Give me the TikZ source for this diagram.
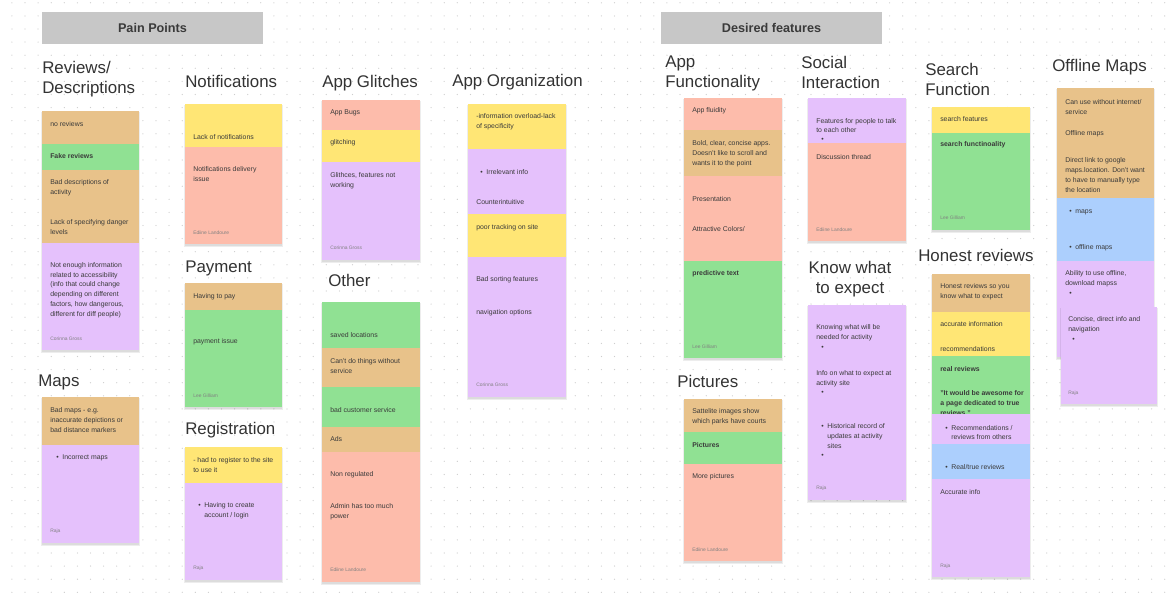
\documentclass[tikz,border=0pt]{standalone}
\usepackage{fontspec}
\setmainfont{Liberation Sans}

\definecolor{noteOrange}{HTML}{E8C28A}
\definecolor{noteGreen}{HTML}{90E193}
\definecolor{notePurple}{HTML}{E5C1FC}
\definecolor{noteSalmon}{HTML}{FDBCAB}
\definecolor{noteYellow}{HTML}{FFE675}
\definecolor{noteBlue}{HTML}{ACCFFD}
\definecolor{barGray}{HTML}{C7C7C7}
\definecolor{dotGray}{HTML}{CDCDCD}
\definecolor{inkGray}{HTML}{3A3A3A}
\definecolor{titleGray}{HTML}{333333}

\newcommand{\notebullet}{\textbullet\hspace{2.6pt}}
\newcommand{\notegap}{\hphantom{\textbullet\hspace{2.6pt}}}

\tikzset{
  section bar/.style={
    fill=barGray, inner sep=0pt,
    minimum width=5.525cm, minimum height=0.8cm,
    text=inkGray, font=\fontsize{9}{11}\selectfont\bfseries
  },
  stack shadow/.style={
    fill=black, fill opacity=0.07
  },
  group title/.style={
    anchor=west, align=left, inner sep=0pt,
    text=titleGray, font=\fontsize{12}{14.2}\selectfont
  },
  note text/.style={
    anchor=west, align=left, inner sep=0pt,
    text=inkGray, font=\fontsize{4.9}{7}\selectfont
  },
  note bold/.style={
    note text, font=\fontsize{4.9}{7}\selectfont\bfseries
  },
  author/.style={
    anchor=west, inner sep=0pt,
    text=black!50, font=\fontsize{3.5}{4}\selectfont
  },
}

% soft shadow under a stack of notes: #1 top left, #2 bottom right
\newcommand{\noteshadow}[4]{%
  \fill[stack shadow] (#1-1,#2+1) rectangle (#3+1,#4+3);
  \fill[stack shadow] (#1,#2+1) rectangle (#3,#4+1.5);
}

\begin{document}
\begin{tikzpicture}[x=0.025cm, y=-0.025cm]
  \useasboundingbox (0,0) rectangle (1174,601);
  \fill[white] (0,0) rectangle (1174,601);

  % dot grid
  \foreach \i in {0,...,89}
    \foreach \j in {0,...,45}
      \fill[dotGray] ({11.9+13.1*\i},{2.8+13.1*\j}) circle (0.45pt);

  % Section bars
  \node[section bar] (painbar) at (152.5,28) {Pain Points};
  \node[section bar] (wantbar) at (771.5,28) {Desired features};

  % Reviews / Descriptions
  \node[group title] (revtitle) at (42,79) {Reviews/\\Descriptions};
  \noteshadow{42}{111}{139}{350}
  \fill[noteOrange] (42,111) rectangle (139,144);
  \node[note text] (rev1) at (50,124) {no reviews};
  \fill[noteGreen] (42,144) rectangle (139,170);
  \node[note bold] (rev2) at (50,156) {Fake reviews};
  \fill[noteOrange] (42,170) rectangle (139,243);
  \node[note text] (rev3) at (50,187.5) {Bad descriptions of\\activity};
  \node[note text] (rev4) at (50,227) {Lack of specifying danger\\levels};
  \fill[notePurple] (42,243) rectangle (139,350);
  \node[note text] (rev5) at (50,290) {Not enough information\\related to accessibility\\(info that could change\\depending on different\\factors, how dangerous,\\different for diff people)};
  \node[author] (rev6) at (50,339) {Corinna Gross};

  % Maps
  \node[group title] (maptitle) at (38,382) {Maps};
  \noteshadow{42}{397}{139}{543}
  \fill[noteOrange] (42,397) rectangle (139,445);
  \node[note text] (map1) at (50,420) {Bad maps - e.g.\\inaccurate depictions or\\bad distance markers};
  \fill[notePurple] (42,445) rectangle (139,543);
  \node[note text] (map2) at (56,458) {\notebullet Incorrect maps};
  \node[author] (map3) at (50,531) {Raja};

  % Notifications
  \node[group title] (nottitle) at (185,81) {Notifications};
  \noteshadow{185}{104}{282}{244}
  \fill[noteYellow] (185,104) rectangle (282,147);
  \node[note text] (not1) at (193,137) {Lack of notifications};
  \fill[noteSalmon] (185,147) rectangle (282,244);
  \node[note text] (not2) at (193,174) {Notifications delivery\\issue};
  \node[author] (not3) at (193,233) {Ediine Landoure};

  % Payment
  \node[group title] (paytitle) at (185,268) {Payment};
  \noteshadow{185}{283}{282}{407}
  \fill[noteOrange] (185,283) rectangle (282,310);
  \node[note text] (pay1) at (193,297) {Having to pay};
  \fill[noteGreen] (185,310) rectangle (282,407);
  \node[note text] (pay2) at (193,342) {payment issue};
  \node[author] (pay3) at (193,396) {Lee Gilliam};

  % Registration
  \node[group title] (regtitle) at (185,430) {Registration};
  \noteshadow{185}{447}{282}{580}
  \fill[noteYellow] (185,447) rectangle (282,483);
  \node[note text] (reg1) at (193,465) {- had to register to the site\\to use it};
  \fill[notePurple] (185,483) rectangle (282,580);
  \node[note text] (reg2) at (198,510.5) {\notebullet Having to create\\\notegap account / login};
  \node[author] (reg3) at (193,568) {Raja};

  % App Glitches
  \node[group title] (glititle) at (322,83) {App Glitches};
  \noteshadow{322}{100}{420}{260}
  \fill[noteSalmon] (322,100) rectangle (420,130);
  \node[note text] (gli1) at (330,113) {App Bugs};
  \fill[noteYellow] (322,130) rectangle (420,162);
  \node[note text] (gli2) at (330,143) {glitching};
  \fill[notePurple] (322,162) rectangle (420,260);
  \node[note text] (gli3) at (330,181) {Glithces, features not\\working};
  \node[author] (gli4) at (330,248) {Corinna Gross};

  % Other
  \node[group title] (othtitle) at (328,280) {Other};
  \noteshadow{322}{302}{420}{582}
  \fill[noteGreen] (322,302) rectangle (420,348);
  \node[note text] (oth1) at (330,335) {saved locations};
  \fill[noteOrange] (322,348) rectangle (420,387);
  \node[note text] (oth2) at (330,366) {Can't do things without\\service};
  \fill[noteGreen] (322,387) rectangle (420,427);
  \node[note text] (oth3) at (330,410) {bad customer service};
  \fill[noteOrange] (322,427) rectangle (420,452);
  \node[note text] (oth4) at (330,439) {Ads};
  \fill[noteSalmon] (322,452) rectangle (420,582);
  \node[note text] (oth5) at (330,475) {Non regulated};
  \node[note text] (oth6) at (330,512) {Admin has too much\\power};
  \node[author] (oth7) at (330,570) {Ediine Landoure};

  % App Organization
  \node[group title] (orgtitle) at (452,82) {App Organization};
  \noteshadow{468}{104}{566}{397}
  \fill[noteYellow] (468,104) rectangle (566,149);
  \node[note text] (org1) at (476,122) {-information overload-lack\\of specificity};
  \fill[notePurple] (468,149) rectangle (566,214);
  \node[note text] (org2) at (480,172) {\notebullet Irrelevant info};
  \node[note text] (org3) at (476,202) {Counterintuitive};
  \fill[noteYellow] (468,214) rectangle (566,257);
  \node[note text] (org4) at (476,228) {poor tracking on site};
  \fill[notePurple] (468,257) rectangle (566,397);
  \node[note text] (org5) at (476,280) {Bad sorting features};
  \node[note text] (org6) at (476,313) {navigation options};
  \node[author] (org7) at (476,385) {Corinna Gross};

  % App Functionality
  \node[group title] (funtitle) at (665,73) {App\\Functionality};
  \noteshadow{684}{98}{782}{358}
  \fill[noteSalmon] (684,98) rectangle (782,130);
  \node[note text] (fun1) at (692,111) {App fluidity};
  \fill[noteOrange] (684,130) rectangle (782,176);
  \node[note text] (fun2) at (692,154) {Bold, clear, concise apps.\\Doesn't like to scroll and\\wants it to the point};
  \fill[noteSalmon] (684,176) rectangle (782,261);
  \node[note text] (fun3) at (692,199) {Presentation};
  \node[note text] (fun4) at (692,229) {Attractive Colors/};
  \fill[noteGreen] (684,261) rectangle (782,358);
  \node[note bold] (fun5) at (692,274) {predictive text};
  \node[author] (fun6) at (692,347) {Lee Gilliam};

  % Pictures
  \node[group title] (pictitle) at (677,381) {Pictures};
  \noteshadow{684}{399}{782}{561}
  \fill[noteOrange] (684,399) rectangle (782,432);
  \node[note text] (pic1) at (692,417) {Sattelite images show\\which parks have courts};
  \fill[noteGreen] (684,432) rectangle (782,464);
  \node[note bold] (pic2) at (692,445) {Pictures};
  \fill[noteSalmon] (684,464) rectangle (782,561);
  \node[note text] (pic3) at (692,477) {More pictures};
  \node[author] (pic4) at (692,550) {Ediine Landoure};

  % Social Interaction
  \node[group title] (soctitle) at (801,72.5) {Social\\Interaction};
  \noteshadow{808}{98}{906}{241}
  \fill[notePurple] (808,98) rectangle (906,143);
  \node[note text] (soc1) at (816,125.5) {Features for people to talk\\to each other};
  \node[note text] (soc2) at (821,140) {\textbullet};
  \fill[noteSalmon] (808,143) rectangle (906,241);
  \node[note text] (soc3) at (816,157) {Discussion thread};
  \node[author] (soc4) at (816,230) {Ediine Landoure};

  % Know what to expect
  \node[group title, anchor=center, align=center] (exptitle) at (850,279.5) {Know what\\to expect};
  \noteshadow{808}{305}{906}{500}
  \fill[notePurple] (808,305) rectangle (906,500);
  \node[note text] (exp1) at (816,333) {Knowing what will be\\needed for activity};
  \node[note text] (exp2) at (821,348) {\textbullet};
  \node[note text] (exp3) at (816,378.5) {Info on what to expect at\\activity site};
  \node[note text] (exp4) at (821,393) {\textbullet};
  \node[note text] (exp5) at (821,436) {\notebullet Historical record of\\\notegap updates at activity\\\notegap sites};
  \node[note text] (exp6) at (821,456) {\textbullet};
  \node[author] (exp7) at (816,488) {Raja};

  % Search Function
  \node[group title] (seatitle) at (925,79.5) {Search\\Function};
  \noteshadow{932}{107}{1030}{230}
  \fill[noteYellow] (932,107) rectangle (1030,133);
  \node[note text] (sea1) at (940,119) {search features};
  \fill[noteGreen] (932,133) rectangle (1030,230);
  \node[note bold] (sea2) at (940,145) {search functinoality};
  \node[author] (sea3) at (940,218) {Lee Gilliam};

  % Honest reviews
  \node[group title] (hontitle) at (918,255) {Honest reviews};
  \noteshadow{932}{274}{1030}{577}
  \fill[noteOrange] (932,274) rectangle (1030,312);
  \node[note text] (hon1) at (940,292) {Honest reviews so you\\know what to expect};
  \fill[noteYellow] (932,312) rectangle (1030,356);
  \node[note text] (hon2) at (940,324) {accurate information};
  \node[note text] (hon3) at (940,349) {recommendations};
  \fill[noteGreen] (932,356) rectangle (1030,414);
  \node[note bold] (hon4) at (940,369) {real reviews};
  \node[note bold] (hon5) at (940,403) {"It would be awesome for\\a page dedicated to true\\reviews."};
  \fill[notePurple] (932,414) rectangle (1030,444);
  \node[note text] (hon6) at (945,432.5) {\notebullet Recommendations /\\\notegap reviews from others};
  \fill[noteBlue] (932,444) rectangle (1030,479);
  \node[note text] (hon7) at (945,467) {\notebullet Real/true reviews};
  \fill[notePurple] (932,479) rectangle (1030,577);
  \node[note text] (hon8) at (940,492) {Accurate info};
  \node[author] (hon9) at (940,566) {Raja};

  % Offline Maps
  \node[group title] (offtitle) at (1052,67) {Offline Maps};
  \noteshadow{1057}{88}{1154}{357}
  \fill[noteOrange] (1057,88) rectangle (1154,198);
  \node[note text] (off1) at (1065,107) {Can use without internet/\\service};
  \node[note text] (off2) at (1065,134) {Offline maps};
  \node[note text] (off3) at (1065,175) {Direct link to google\\maps.location. Don't want\\to have to manually type\\the location};
  \fill[noteBlue] (1057,198) rectangle (1154,261);
  \node[note text] (off4) at (1069,212) {\notebullet maps};
  \node[note text] (off5) at (1069,248) {\notebullet offline maps};
  \fill[notePurple] (1057,261) rectangle (1154,357);
  \node[note text] (off6) at (1065,279) {Ability to use offline,\\download mapss};
  \node[note text] (off7) at (1069,294) {\textbullet};
  \noteshadow{1061}{307}{1157}{404}
  \fill[notePurple] (1061,307) rectangle (1157,404);
  \node[note text] (off8) at (1068,325) {Concise, direct info and\\navigation};
  \node[note text] (off9) at (1072,340) {\textbullet};
  \node[author] (off10) at (1068,393) {Raja};

\end{tikzpicture}
\end{document}
